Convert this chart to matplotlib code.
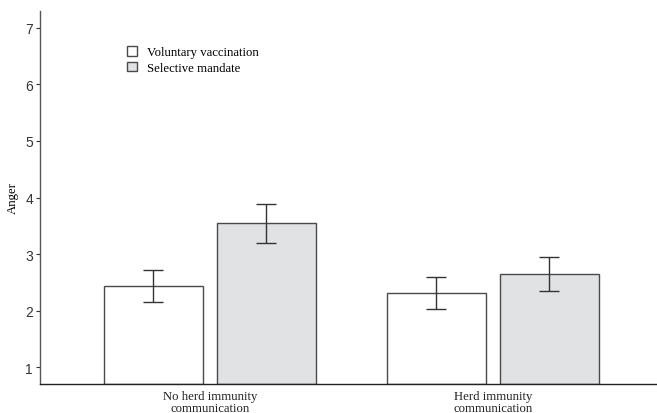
import matplotlib
matplotlib.use("Agg")
import matplotlib.pyplot as plt
import numpy as np
from matplotlib.patches import Patch

groups = ["No herd immunity\ncommunication", "Herd immunity\ncommunication"]
series = ["Voluntary vaccination", "Selective mandate"]
means = {
    "Voluntary vaccination": [2.43, 2.31],
    "Selective mandate": [3.54, 2.65],
}
lower = {
    "Voluntary vaccination": [2.15, 2.03],
    "Selective mandate": [3.19, 2.35],
}
upper = {
    "Voluntary vaccination": [2.72, 2.59],
    "Selective mandate": [3.89, 2.95],
}
yticks = [1, 2, 3, 4, 5, 6, 7]
colors = {"Voluntary vaccination": "#ffffff", "Selective mandate": "#e1e2e4"}

fig = plt.figure(figsize=(6.57, 4.14), dpi=100)
ax = fig.add_axes([40/657, 1-385/414, 1-40/657, (385-12)/414])

x = np.arange(len(groups))
width = 0.35
offsets = [-0.2, 0.2]
for s, off in zip(series, offsets):
    m = np.array(means[s]); lo = np.array(lower[s]); hi = np.array(upper[s])
    ax.bar(x + off, m - 0.7, width, bottom=0.7, color=colors[s],
           edgecolor="#4a4a4a", linewidth=1.0, zorder=2)
    ax.errorbar(x + off, m, yerr=[m - lo, hi - m], fmt="none",
                ecolor="#333333", elinewidth=1.0, capsize=7.2, capthick=1.0, zorder=3)

ax.set_xlim(-0.60, 1.58)
ax.set_ylim(0.7, 7.3)
ax.set_yticks(yticks)
ax.set_yticklabels([str(t) for t in yticks], fontfamily="Liberation Sans", fontsize=10, color="#333333")
ax.set_xticks(x)
ax.set_xticklabels(groups, fontfamily="Liberation Serif", fontsize=9.2, color="#222222", linespacing=1.1)
ax.tick_params(axis="x", length=0, pad=4)
ax.tick_params(axis="y", length=3, width=0.8, color="#333333", pad=2)
ax.set_ylabel("Anger", fontfamily="Liberation Serif", fontsize=9.2)
ax.yaxis.set_label_coords((19-40)/617, 0.5)
for sp in ["top", "right"]:
    ax.spines[sp].set_visible(False)
ax.spines["left"].set_color("#555555")
ax.spines["bottom"].set_color("#222222")
ax.spines["left"].set_linewidth(1.0)
ax.spines["bottom"].set_linewidth(1.0)

handles = [Patch(facecolor=colors[s], edgecolor="#4a4a4a", linewidth=1.0, label=s) for s in series]
leg = ax.legend(handles=handles, loc="upper left", bbox_to_anchor=((127-40)/617, 1-(47-12)/373),
                frameon=False, prop={"family": "Liberation Serif", "size": 9.2},
                handlelength=0.8, handleheight=0.8, handletextpad=0.75, labelspacing=0.25,
                borderpad=0, borderaxespad=0)

fig.savefig("out.png", dpi=100)
